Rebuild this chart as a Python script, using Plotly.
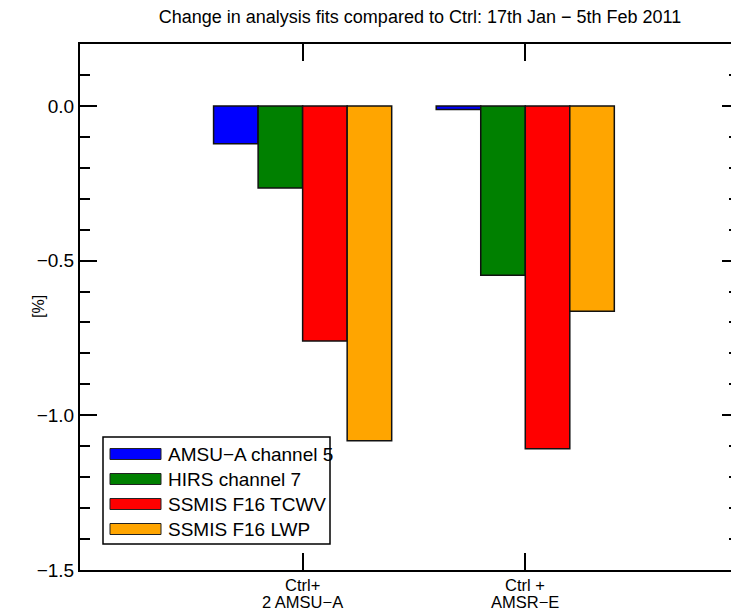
import plotly.graph_objects as go

cat_line1 = ["Ctrl+", "Ctrl +"]
cat_line2 = ["2 AMSU\u2212A", "AMSR\u2212E"]
cat_pos = [1, 2]
y_tickvals = [-1.5, -1.0, -0.5, 0.0]
y_ticktext = ["\u22121.5", "\u22121.0", "\u22120.5", "0.0"]
series_names = ["AMSU\u2212A channel 5", "HIRS channel 7", "SSMIS F16 TCWV", "SSMIS F16 LWP"]
series_colors = ["#0000ff", "#008000", "#ff0000", "#ffa500"]
amsu_a = [-0.122, -0.012]
hirs = [-0.265, -0.547]
ssmis_tcwv = [-0.760, -1.108]
ssmis_lwp = [-1.082, -0.664]
series_values = [amsu_a, hirs, ssmis_tcwv, ssmis_lwp]

FONT = "Liberation Sans, Arial, sans-serif"
OFF = 8            # page body margin offset
FW, FH = 731, 606  # figure size
PW, PH = 659, 526  # plot area size in px

fig = go.Figure()
for name, col, vals in zip(series_names, series_colors, series_values):
    fig.add_trace(go.Bar(x=cat_pos, y=vals, name=name,
                         marker=dict(color=col, line=dict(color="#111111", width=1.5)),
                         showlegend=False))

# helpers converting page-pixel positions to paper coordinates
def px_x(x):
    return (x - 80) / PW

def px_y(y):
    return (570 - y) / PH

shapes = [dict(type="rect", xref="paper", yref="paper", x0=px_x(103), x1=px_x(330), y0=px_y(544), y1=px_y(437),
               line=dict(color="black", width=1.5), fillcolor="white", layer="above")]
annotations = []
for i, (name, col) in enumerate(zip(series_names, series_colors)):
    yc = px_y(454 + i * 25)
    shapes.append(dict(type="rect", xref="paper", yref="paper", x0=px_x(110), x1=px_x(161),
                       y0=yc - 5.5 / PH, y1=yc + 5.5 / PH, fillcolor=col,
                       line=dict(color="#222222", width=1), layer="above"))
    annotations.append(dict(xref="paper", yref="paper", x=px_x(166), y=yc, text=name, showarrow=False,
                            xanchor="left", yanchor="middle", font=dict(size=19, color="black", family=FONT)))

# category labels (two lines, tight spacing as in the original)
for xp, l1, l2 in zip(cat_pos, cat_line1, cat_line2):
    annotations.append(dict(xref="x", yref="paper", x=xp, y=px_y(585), text=l1, showarrow=False,
                            xanchor="center", yanchor="middle", font=dict(size=16.5, family=FONT, color="black")))
    annotations.append(dict(xref="x", yref="paper", x=xp, y=px_y(602), text=l2, showarrow=False,
                            xanchor="center", yanchor="middle", font=dict(size=16.5, family=FONT, color="black")))

# y-axis title
annotations.append(dict(xref="paper", yref="paper", x=px_x(38), y=px_y(307), text="[%]", textangle=-90,
                        showarrow=False, xanchor="center", yanchor="middle",
                        font=dict(size=16, family=FONT, color="black")))

fig.update_layout(
    width=FW, height=FH,
    margin=dict(l=80 - OFF, r=0, t=44 - OFF, b=FH - (570 - OFF), autoexpand=False),
    paper_bgcolor="white", plot_bgcolor="white",
    font=dict(family=FONT, color="black"),
    title=dict(text="Change in analysis fits compared to Ctrl: 17th Jan \u2212 5th Feb 2011",
               x=(420 - OFF) / FW, xanchor="center", y=1 - (17 - OFF) / FH, yanchor="middle",
               font=dict(size=18, family=FONT, color="black")),
    barmode="group", bargap=0.2, bargroupgap=0,
    shapes=shapes, annotations=annotations,
    showlegend=False,
)
fig.update_xaxes(range=[0, 2.96], tickvals=cat_pos, showticklabels=False, ticks="inside", ticklen=17,
                 tickwidth=1.5, tickcolor="black", showline=True, linecolor="black", linewidth=2,
                 mirror="ticks", showgrid=False, zeroline=False, automargin=False)
fig.update_yaxes(range=[-1.5, 0.2], tickmode="array", tickvals=y_tickvals, ticktext=y_ticktext,
                 ticks="inside", ticklen=17,
                 tickwidth=1.5, tickcolor="black", showline=True, linecolor="black", linewidth=2,
                 mirror="ticks", showgrid=False, zeroline=False, automargin=False,
                 tickfont=dict(size=19, family=FONT),
                 minor=dict(dtick=0.1, tick0=0, ticks="inside", ticklen=10, tickwidth=1.5,
                            tickcolor="black", showgrid=False))

fig.write_html("out.html")
